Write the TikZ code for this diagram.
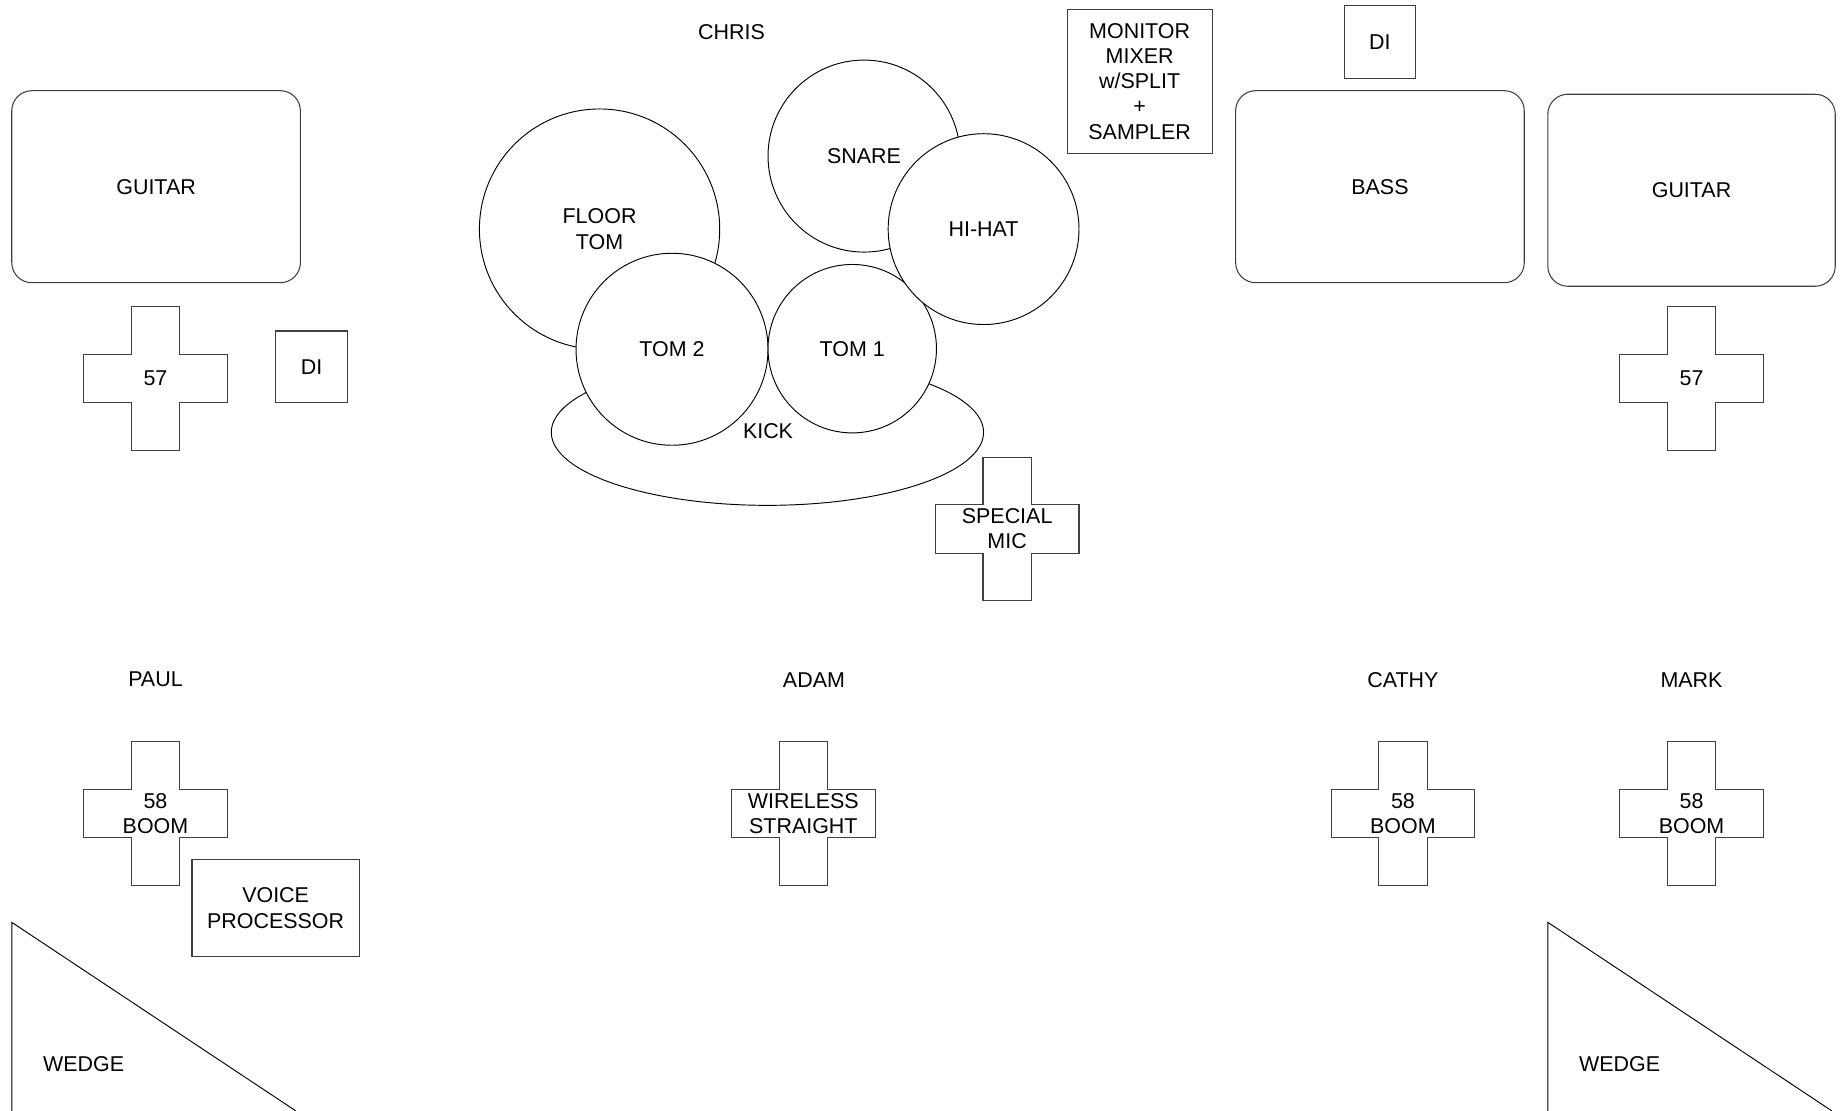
\documentclass[tikz,border=0pt]{standalone}
\usepackage{fontspec}
\setmainfont{Liberation Sans}
\usetikzlibrary{shapes.geometric}
\newcommand\mikecross[4]{%
  \draw[crossline] (#2-20.5,#3-61) -- ++(41,0) -- ++(0,40.5) -- ++(40.5,0) -- ++(0,41)
    -- ++(-40.5,0) -- ++(0,40.5) -- ++(-41,0) -- ++(0,-40.5) -- ++(-40.5,0) -- ++(0,-41)
    -- ++(40.5,0) -- cycle;
  \node[lbl] (#1) at (#2,#3) {#4};
}
\tikzset{
  lbl/.style={inner sep=0pt, align=center, font=\fontsize{18.2}{21.5}\selectfont},
  crossline/.style={draw=black!75, line width=0.9pt},
  box/.style={draw=black!75, line width=0.9pt, fill=white, inner sep=0pt, align=center,
    font=\fontsize{18.2}{21.5}\selectfont},
  amp/.style={box, rounded corners=17pt},
  drum/.style={circle, draw=black, line width=0.8pt, fill=white, inner sep=0pt, align=center,
    font=\fontsize{18.2}{21.5}\selectfont},
  wedgeline/.style={draw=black, line width=0.8pt}
}
\begin{document}
\begin{tikzpicture}[x=1pt,y=-1pt]
\useasboundingbox (0,0) rectangle (1568,943);
% labels
\node[lbl] (chris) at (621,27) {CHRIS};
\node[lbl] (paul) at (132,577) {PAUL};
\node[lbl] (adam) at (691,577) {ADAM};
\node[lbl] (cathy) at (1191,577) {CATHY};
\node[lbl] (mark) at (1436,577) {MARK};
% amps
\node[amp, minimum width=245pt, minimum height=163pt] (guitarL) at (132.5,158.5) {GUITAR};
\node[amp, minimum width=245pt, minimum height=163pt] (bass) at (1171.5,158.5) {BASS};
\node[amp, minimum width=244pt, minimum height=163pt] (guitarR) at (1436,161.5) {GUITAR};
% boxes
\node[box, minimum width=61pt, minimum height=61pt] (diL) at (264.5,311.5) {DI};
\node[box, minimum width=61pt, minimum height=62pt] (diT) at (1171.5,36) {DI};
\node[box, minimum width=123pt, minimum height=122pt] (monitor) at (967.5,69)
  {MONITOR\\MIXER\\w/SPLIT\\+\\SAMPLER};
\node[box, minimum width=142pt, minimum height=82pt] (voice) at (234,771)
  {VOICE\\PROCESSOR};
% drums
\node[ellipse, draw=black, line width=0.8pt, fill=white, inner sep=0pt,
  minimum width=367pt, minimum height=124pt, font=\fontsize{18.2}{21.5}\selectfont]
  (kick) at (651.5,367) {};
\node[drum, minimum size=204pt] (floortom) at (509,194.5) {FLOOR\\TOM};
\node[drum, minimum size=163pt] (tom2) at (570.5,296.5) {TOM 2};
\node[drum, minimum size=143pt] (tom1) at (723.5,296) {TOM 1};
\node[drum, minimum size=163pt] (snare) at (733.5,132.5) {SNARE};
\node[drum, minimum size=162pt] (hihat) at (835,194.5) {HI-HAT};
\node[lbl] (kicklbl) at (652,366) {KICK};
% mics
\mikecross{micL}{132}{321.5}{57}
\mikecross{micR}{1436}{321.5}{57}
\mikecross{special}{855}{449}{SPECIAL\\MIC}
\mikecross{paulmic}{132}{690.5}{58\\BOOM}
\mikecross{adammic}{682}{690.5}{WIRELESS\\STRAIGHT}
\mikecross{cathymic}{1191}{690.5}{58\\BOOM}
\mikecross{markmic}{1436}{690.5}{58\\BOOM}
% wedges
\coordinate (wL1) at (10,943);
\coordinate (wL2) at (10,783);
\coordinate (wL3) at (251,943);
\draw[wedgeline] (wL1) -- (wL2) -- (wL3);
\node[lbl] (wedgeL) at (71,903) {WEDGE};
\coordinate (wR1) at (1314,943);
\coordinate (wR2) at (1314,783);
\coordinate (wR3) at (1555,943);
\draw[wedgeline] (wR1) -- (wR2) -- (wR3);
\node[lbl] (wedgeR) at (1375,903) {WEDGE};
\end{tikzpicture}
\end{document}
